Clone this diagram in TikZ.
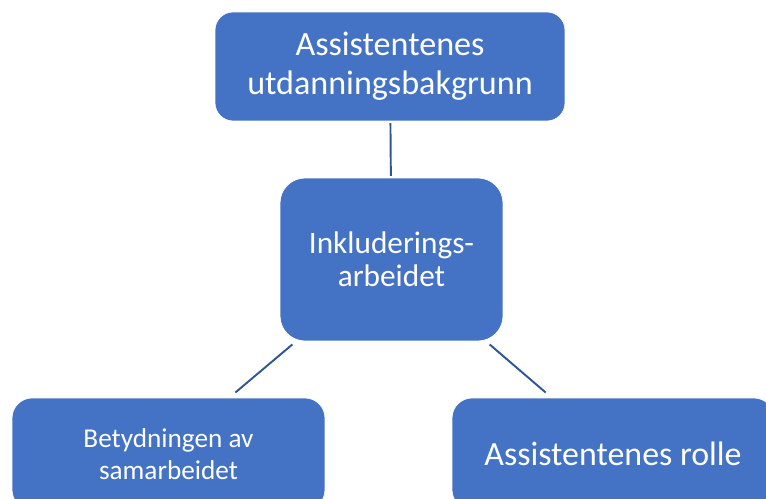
\documentclass[tikz,border=0pt]{standalone}
\usepackage{fontspec}
\setmainfont{Carlito}
\usetikzlibrary{calc}
\definecolor{boxblue}{HTML}{4472C4}
\definecolor{lineblue}{HTML}{2F5597}
\tikzset{
	box/.style={fill=boxblue,draw=white,line width=0.4pt,text=white,align=center,inner sep=0pt},
	link/.style={draw=lineblue,line width=1.1pt,shorten <=1pt,shorten >=1pt}
}
\begin{document}
\begin{tikzpicture}[x=0.02cm,y=-0.02cm]
	\useasboundingbox(0,0) rectangle (766,499);
	\node[box,rounded corners=0.36cm,minimum width=7cm,minimum height=2.18cm,font=\fontsize{19.4}{22}\selectfont](top)at(390,66.5){Assistentenes\\utdanningsbakgrunn};
	\node[box,rounded corners=0.5cm,minimum width=4.46cm,minimum height=3.26cm,font=\fontsize{17.8}{18.7}\selectfont](mid)at(391.5,259.5){Inkluderings-\\arbeidet};
	\node[box,rounded corners=0.4cm,minimum width=6.26cm,minimum height=2.24cm,font=\fontsize{15.5}{18}\selectfont](bl)at(168.5,454){Betydningen av\\samarbeidet};
	\node[box,rounded corners=0.4cm,minimum width=6.44cm,minimum height=2.24cm,font=\fontsize{19.3}{22}\selectfont](br)at(613,454){Assistentenes rolle};
	\draw[link](top)--(mid);
	\draw[link]($(mid.south west)+(14,2)$)--($(bl.north)+(65.5,-4)$);
	\draw[link]($(mid.south east)+(-15,2)$)--($(br.north)+(-66,-4)$);
\end{tikzpicture}
\end{document}
